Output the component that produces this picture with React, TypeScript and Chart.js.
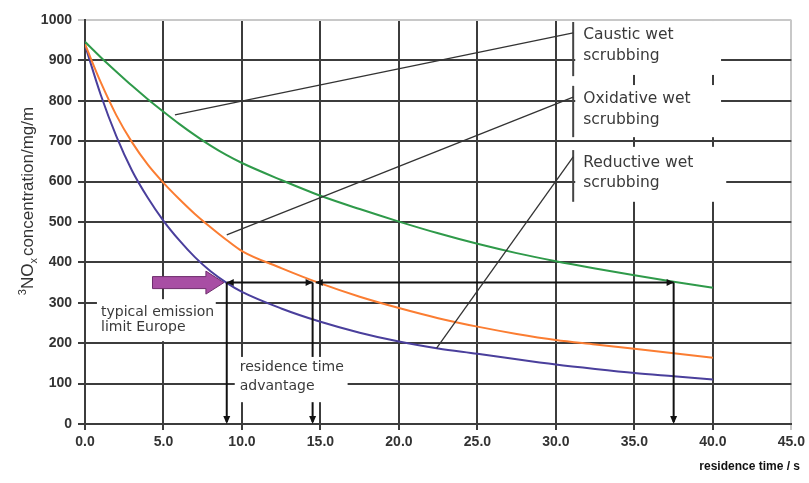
import { useEffect, useRef } from 'react';
import { Chart, registerables } from 'chart.js';

Chart.register(...registerables);

// ---- data ----
const times = [0, 1, 2, 3, 4, 5, 6, 7, 8, 9, 10, 12.5, 15, 17.5, 20, 22.5, 25, 27.5, 30, 32.5, 35, 37.5, 40];
const causticWet = [946, 908, 872, 837, 804, 773, 743, 715, 689, 666, 646, 604, 565, 532, 501, 472, 446, 423, 403, 385, 368, 352, 337];
const oxidativeWet = [940, 846, 764, 697, 642, 597, 557, 520, 487, 456, 428, 386, 348, 315, 287, 262, 241, 223, 208, 197, 186, 175, 164];
const reductiveWet = [938, 815, 712, 627, 560, 503, 455, 413, 378, 350, 327, 286, 253, 226, 204, 187, 174, 160, 147, 136, 126, 118, 110];

const xMax = 45;
const xStep = 5;
const yMax = 1000;
const yStep = 100;

const emissionLimit = 350; // mg/m3
const limitCrossTimes = [9.03, 14.5, 37.5]; // reductive, oxidative, caustic
const advantageSpans = [[9.03, 14.5], [14.7, 37.5]];
const limitArrowSpan = [4.3, 8.85];

const seriesLabels = [
  ['Caustic wet', 'scrubbing'],
  ['Oxidative wet', 'scrubbing'],
  ['Reductive wet', 'scrubbing'],
];
const limitLabel = ['typical emission', 'limit Europe'];
const advantageLabel = ['residence time', 'advantage'];
const xTitle = 'residence time / s';

const GRID = '#3c3c3c';
const LIGHT = '#c8c8c8';
const TXT = '#3a3a3a';
const LABEL_FONT = '"DejaVu Sans", sans-serif';

function head(ctx: CanvasRenderingContext2D, x: number, y: number, ang: number, len = 7, half = 3.5) {
  ctx.save();
  ctx.translate(x, y);
  ctx.rotate(ang);
  ctx.beginPath();
  ctx.moveTo(0, 0);
  ctx.lineTo(-len, -half);
  ctx.lineTo(-len, half);
  ctx.closePath();
  ctx.fill();
  ctx.restore();
}

const annot = {
  id: 'annot',
  afterDatasetsDraw(chart: any) {
    const { ctx, scales } = chart;
    const xs = scales.x;
    const ys = scales.y;
    const px = (t: number) => xs.getPixelForValue(t);
    const py = (v: number) => ys.getPixelForValue(v);
    ctx.save();

    // --- black arrows at the emission limit ---
    ctx.strokeStyle = '#111';
    ctx.fillStyle = '#111';
    ctx.lineWidth = 2;
    const yl = py(emissionLimit);
    advantageSpans.forEach(([a, b]) => {
      ctx.beginPath();
      ctx.moveTo(px(a), yl);
      ctx.lineTo(px(b), yl);
      ctx.stroke();
      head(ctx, px(a), yl, Math.PI);
      head(ctx, px(b), yl, 0);
    });
    limitCrossTimes.forEach((t) => {
      ctx.beginPath();
      ctx.moveTo(px(t), yl);
      ctx.lineTo(px(t), py(0) - 2);
      ctx.stroke();
      head(ctx, px(t), py(0), Math.PI / 2, 8, 3.5);
    });

    // --- purple arrow ---
    {
      const x0 = px(limitArrowSpan[0]);
      const x1 = px(limitArrowSpan[1]);
      const hl = 18;
      ctx.beginPath();
      ctx.moveTo(x0, yl - 6);
      ctx.lineTo(x1 - hl, yl - 6);
      ctx.lineTo(x1 - hl, yl - 11.5);
      ctx.lineTo(x1, yl);
      ctx.lineTo(x1 - hl, yl + 11.5);
      ctx.lineTo(x1 - hl, yl + 6);
      ctx.lineTo(x0, yl + 6);
      ctx.closePath();
      ctx.fillStyle = '#a84ea4';
      ctx.fill();
      ctx.strokeStyle = '#6e2d6c';
      ctx.lineWidth = 1;
      ctx.stroke();
    }

    // --- white label boxes ---
    ctx.fillStyle = '#ffffff';
    const box = (t0: number, t1: number, v0: number, v1: number) => {
      const a = px(t0), b = px(t1), c = py(v1), d = py(v0);
      ctx.fillRect(a, c, b - a, d - c);
    };
    box(31.23, 40.52, 864, 997.5);
    box(31.23, 40.52, 710, 839);
    box(31.23, 40.85, 550, 686);
    box(0.76, 8.33, 205, 309);
    box(9.54, 16.73, 54, 166);

    // --- brackets and callouts ---
    ctx.strokeStyle = '#444';
    ctx.lineWidth = 2;
    const bx = px(31.1);
    [[861, 995], [710, 837], [550, 678]].forEach(([a, b]) => {
      ctx.beginPath();
      ctx.moveTo(bx, py(a));
      ctx.lineTo(bx, py(b));
      ctx.stroke();
    });
    ctx.strokeStyle = '#333';
    ctx.lineWidth = 1.3;
    [
      [5.73, 765, 968],
      [9.03, 468, 809],
      [22.4, 188, 661],
    ].forEach(([t, v, ve]) => {
      ctx.beginPath();
      ctx.moveTo(px(t), py(v));
      ctx.lineTo(bx, py(ve));
      ctx.stroke();
    });

    // --- label texts ---
    ctx.fillStyle = TXT;
    ctx.textBaseline = 'middle';
    ctx.textAlign = 'left';
    ctx.font = `15.5px ${LABEL_FONT}`;
    const tx = px(31.74);
    const rows = [[963, 911], [804, 752], [646, 597]];
    seriesLabels.forEach((lines, i) => {
      lines.forEach((s, j) => ctx.fillText(s, tx, py(rows[i][j])));
    });
    ctx.font = `14px ${LABEL_FONT}`;
    limitLabel.forEach((s, j) => ctx.fillText(s, px(1.02), py([277, 238][j])));
    advantageLabel.forEach((s, j) => ctx.fillText(s, px(9.86), py([139, 92][j])));

    ctx.restore();
  },
  afterDraw(chart: any) {
    const { ctx } = chart;
    ctx.save();
    // x axis title
    ctx.fillStyle = '#111';
    ctx.font = 'bold 12px "Liberation Sans", Arial, sans-serif';
    ctx.textAlign = 'right';
    ctx.textBaseline = 'middle';
    ctx.fillText(xTitle, 800, 467);

    // y axis title: ³NOx concentration/mg/m
    ctx.translate(33, 201);
    ctx.rotate(-Math.PI / 2);
    ctx.fillStyle = '#333';
    ctx.textAlign = 'left';
    ctx.textBaseline = 'alphabetic';
    const big = '17px "Liberation Sans", Arial, sans-serif';
    const small = '11px "Liberation Sans", Arial, sans-serif';
    const parts: [string, string, number][] = [
      ['3', small, -7],
      ['NO', big, 0],
      ['x', small, 4],
      ['concentration/mg/m', big, 0],
    ];
    let w = 0;
    parts.forEach(([s, f]) => {
      ctx.font = f;
      w += ctx.measureText(s).width;
    });
    w += 2;
    let u = -w / 2;
    parts.forEach(([s, f, dy], i) => {
      ctx.font = f;
      ctx.fillText(s, u, dy);
      u += ctx.measureText(s).width + (i === 2 ? 2 : 0);
    });
    ctx.restore();
  },
};

export default function App() {
  const ref = useRef<HTMLCanvasElement | null>(null);
  useEffect(() => {
    if (!ref.current) return;
    const mk = (d: number[]) => times.map((t, i) => ({ x: t, y: d[i] }));
    const common = {
      borderWidth: 2,
      pointRadius: 0,
      fill: false,
      cubicInterpolationMode: 'monotone' as const,
    };
    const tickFont = { family: '"Liberation Sans", Arial, sans-serif', size: 14, weight: 'bold' as const };
    const chart = new Chart(ref.current, {
      type: 'line',
      data: {
        datasets: [
          { label: 'Caustic wet scrubbing', data: mk(causticWet), borderColor: '#2f9a4a', ...common },
          { label: 'Oxidative wet scrubbing', data: mk(oxidativeWet), borderColor: '#fb7d32', ...common },
          { label: 'Reductive wet scrubbing', data: mk(reductiveWet), borderColor: '#4a3f9c', ...common },
        ],
      },
      options: {
        responsive: false,
        animation: false,
        layout: { padding: { top: 20, right: 15, left: 0, bottom: 0 } },
        plugins: { legend: { display: false }, tooltip: { enabled: false } },
        scales: {
          x: {
            type: 'linear',
            min: 0,
            max: xMax,
            ticks: {
              stepSize: xStep,
              autoSkip: false,
              maxRotation: 0,
              padding: 4,
              color: '#333',
              font: tickFont,
              callback: (v: any) => Number(v).toFixed(1),
            },
            grid: {
              color: (c: any) => (c.tick && c.tick.value === xMax ? LIGHT : GRID),
              lineWidth: 2,
              tickLength: 6,
            },
            border: { color: GRID, width: 2 },
            afterFit: (s: any) => {
              s.height = 59;
            },
          },
          y: {
            min: 0,
            max: yMax,
            ticks: {
              stepSize: yStep,
              padding: 6,
              color: '#333',
              font: tickFont,
              callback: (v: any) => String(v),
            },
            grid: {
              color: (c: any) => (c.tick && c.tick.value === yMax ? LIGHT : GRID),
              lineWidth: 2,
              tickLength: 7,
            },
            border: { color: GRID, width: 2 },
            afterFit: (s: any) => {
              s.width = 85;
            },
          },
        },
      },
      plugins: [annot],
    });
    return () => chart.destroy();
  }, []);
  return (
    <div style={{ position: 'absolute', left: 0, top: 0, width: 809, height: 483, background: '#fff' }}>
      <canvas ref={ref} width={809} height={483} style={{ display: 'block' }} />
    </div>
  );
}
